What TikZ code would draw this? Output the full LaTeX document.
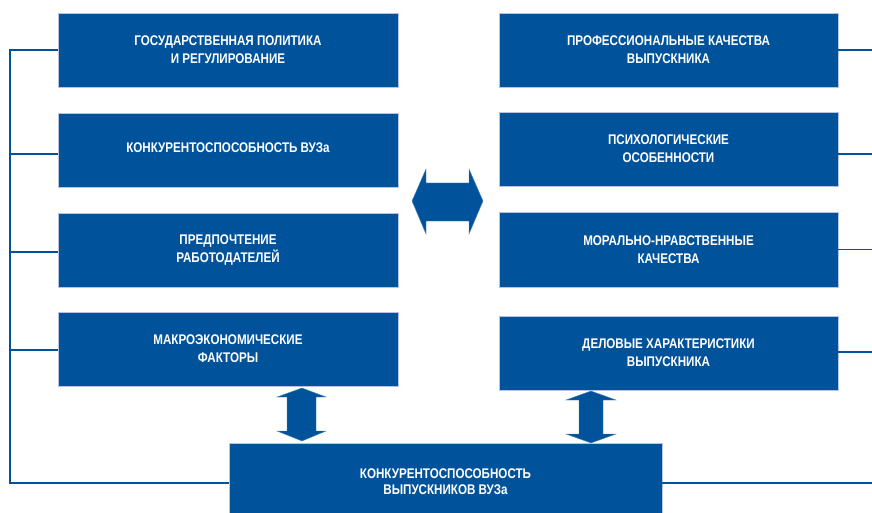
\documentclass[tikz,border=0pt]{standalone}
\usepackage{fontspec}
\setmainfont{Liberation Sans}[FakeStretch=0.83]
\definecolor{boxblue}{RGB}{0,83,155}
\definecolor{boxedge}{RGB}{185,195,225}
\tikzset{
  box/.style={draw=boxedge, line width=0.9pt, fill=boxblue, text=white,
    font=\bfseries\fontsize{14}{18}\selectfont, align=center,
    minimum width=340pt, minimum height=74pt, inner sep=0pt},
  conn/.style={draw=boxblue, line width=1.4pt},
  arr/.style={fill=boxblue, draw=boxblue!70!white, line width=0.4pt}
}
\begin{document}
\begin{tikzpicture}[x=1pt,y=-1pt]
\useasboundingbox (0,0) rectangle (872,513);
% left column
\node[box] (L1) at (228,50) {ГОСУДАРСТВЕННАЯ ПОЛИТИКА\\И РЕГУЛИРОВАНИЕ};
\node[box] (L2) at (228,150) {\raisebox{5pt}{КОНКУРЕНТОСПОСОБНОСТЬ ВУЗа}};
\node[box] (L3) at (228,250) {ПРЕДПОЧТЕНИЕ\\РАБОТОДАТЕЛЕЙ};
\node[box] (L4) at (228,349) {МАКРОЭКОНОМИЧЕСКИЕ\\ФАКТОРЫ};
% right column
\node[box, minimum width=339pt] (R1) at (668.5,50) {ПРОФЕССИОНАЛЬНЫЕ КАЧЕСТВА\\ВЫПУСКНИКА};
\node[box, minimum width=339pt] (R2) at (668.5,149) {ПСИХОЛОГИЧЕСКИЕ\\ОСОБЕННОСТИ};
\node[box, minimum width=339pt, minimum height=75pt] (R3) at (668.5,249.5) {МОРАЛЬНО-НРАВСТВЕННЫЕ\\КАЧЕСТВА};
\node[box, minimum width=339pt] (R4) at (668.5,353) {ДЕЛОВЫЕ ХАРАКТЕРИСТИКИ\\ВЫПУСКНИКА};
% bottom
\node[box, minimum width=433pt, minimum height=80pt] (B) at (445.5,483) {\raisebox{3pt}{\begin{tabular}{@{}c@{}}КОНКУРЕНТОСПОСОБНОСТЬ\\[-2pt]ВЫПУСКНИКОВ ВУЗа\end{tabular}}};
% connector lines
\coordinate (vb) at (10,483);
\coordinate (re) at (872,0);
\draw[conn] (L1.west) -| (vb) -- (B.west);
\draw[conn] ([yshift=-4pt]L2.west) -- ([yshift=-4pt]L2.west -| vb);
\draw[conn] ([yshift=-2pt]L3.west) -- ([yshift=-2pt]L3.west -| vb);
\draw[conn] ([yshift=-1pt]L4.west) -- ([yshift=-1pt]L4.west -| vb);
\draw[conn] (R1.east) -- (R1.east -| re);
\draw[conn] ([yshift=-5pt]R2.east) -- ([yshift=-5pt]R2.east -| re);
\draw[conn] (R3.east) -- (R3.east -| re);
\draw[conn] ([yshift=1pt]R4.east) -- ([yshift=1pt]R4.east -| re);
\draw[conn] (B.east) -- (B.east -| re);
% arrows
\path[arr] (412,201) -- (426,169) -- (426,183) -- (469,183) -- (469,169) -- (483,201)
  -- (469,234) -- (469,221) -- (426,221) -- (426,234) -- cycle;
\path[arr] (302,388) -- (326,397) -- (316,397) -- (316,431) -- (326,431) -- (302,441)
  -- (277,431) -- (287,431) -- (287,397) -- (277,397) -- cycle;
\path[arr] (591,391) -- (616,400) -- (603,400) -- (603,434) -- (616,434) -- (591,443)
  -- (566,434) -- (579,434) -- (579,400) -- (566,400) -- cycle;
\end{tikzpicture}
\end{document}
